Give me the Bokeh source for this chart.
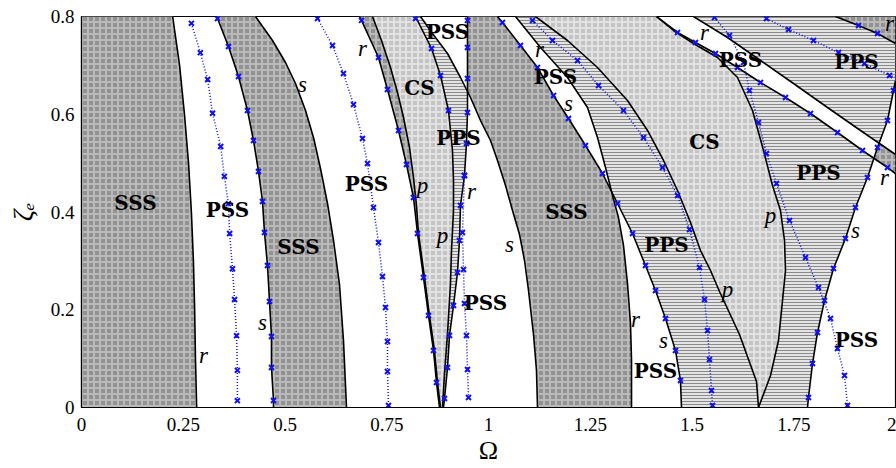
import numpy as np
from bokeh.plotting import figure
from bokeh.models import Range1d, FixedTicker
from bokeh.embed import file_html
from bokeh.resources import INLINE
from bokeh.core.properties import value

# ---------------- data (Omega, zeta_e) ----------------
A_om = [0.224, 0.241, 0.253, 0.263, 0.270, 0.275, 0.278, 0.280, 0.283]
A_ze = [0.8, 0.7, 0.6, 0.5, 0.4, 0.3, 0.2, 0.1, 0.0]

B1_om = [0.270, 0.292, 0.310, 0.322, 0.342, 0.351, 0.361, 0.364, 0.371, 0.376, 0.381, 0.383, 0.383]
B1_ze = [0.786, 0.726, 0.671, 0.602, 0.534, 0.473, 0.417, 0.356, 0.284, 0.221, 0.147, 0.076, 0.014]

C_om = [0.3317, 0.3342, 0.3612, 0.3857, 0.4079, 0.4226, 0.4349, 0.4447, 0.4496, 0.4570, 0.4619, 0.4668, 0.4668, 0.4717, 0.4717]
C_ze = [0.8, 0.7959, 0.7386, 0.6772, 0.6077, 0.5463, 0.4829, 0.4215, 0.3581, 0.2905, 0.2169, 0.1453, 0.0818, 0.0143, 0.0]

D_om = [0.4275, 0.4693, 0.5012, 0.5258, 0.5504, 0.5700, 0.5872, 0.6044, 0.6192, 0.6339, 0.6437, 0.6511]
D_ze = [0.8, 0.7509, 0.7059, 0.6629, 0.6077, 0.5524, 0.4890, 0.4174, 0.3417, 0.2517, 0.1371, 0.0]

B2_om = [0.5799, 0.6167, 0.6437, 0.6683, 0.6904, 0.7027, 0.7174, 0.7297, 0.7396, 0.7469, 0.7518, 0.7518, 0.7543]
B2_ze = [0.7959, 0.7407, 0.6834, 0.6199, 0.5504, 0.4992, 0.4092, 0.3376, 0.2680, 0.2046, 0.1350, 0.0737, 0.0041]

E_om = [0.6830, 0.6880, 0.7297, 0.7518, 0.7789, 0.7985, 0.8157, 0.8256, 0.8403, 0.8526, 0.8649, 0.8722, 0.8796]
E_ze = [0.8, 0.792, 0.7161, 0.6506, 0.5668, 0.4972, 0.4297, 0.3560, 0.2660, 0.1882, 0.1166, 0.0512, 0.0]

F_om = [0.7150, 0.7371, 0.7592, 0.7764, 0.7912, 0.8059, 0.8157, 0.8231, 0.8280, 0.8428, 0.8550, 0.8673, 0.8747, 0.8821]
F_ze = [0.8, 0.7509, 0.6957, 0.6445, 0.5934, 0.5320, 0.4706, 0.4133, 0.3560, 0.2660, 0.1882, 0.1166, 0.0512, 0.0]

G_om = [0.8206, 0.8600, 0.8821, 0.9017, 0.9115, 0.9140, 0.9140, 0.9091, 0.9066, 0.8993, 0.8919, 0.8870]
G_ze = [0.8, 0.7345, 0.6793, 0.6077, 0.5258, 0.4645, 0.4031, 0.3212, 0.2537, 0.1514, 0.0696, 0.0]
Gmk_om = [0.8206, 0.8600, 0.8821, 0.9017]
Gmk_ze = [0.796, 0.7345, 0.6793, 0.6077]

HJ_om = [0.9484, 0.9484, 0.9484, 0.9484, 0.9484, 0.9459, 0.9410, 0.9312, 0.9287, 0.9238, 0.9140, 0.9042, 0.8993, 0.8919, 0.8894]
HJ_ze = [0.8, 0.792, 0.7366, 0.6731, 0.6036, 0.5402, 0.4747, 0.4133, 0.3417, 0.2762, 0.2087, 0.1473, 0.0818, 0.0184, 0.0]

B3_om = [0.9410, 0.9361, 0.9386, 0.9410, 0.9459, 0.9484, 0.9509]
B3_ze = [0.4747, 0.3581, 0.2824, 0.2128, 0.1473, 0.0777, 0.0205]

I_om = [0.8329, 0.8624, 0.8993, 0.9312, 0.9558, 0.9803, 1.0049, 1.0221, 1.0418, 1.0590, 1.0762, 1.0885, 1.0983, 1.1106, 1.1179, 1.1204]
I_ze = [0.8, 0.7652, 0.7243, 0.6752, 0.6343, 0.5872, 0.5463, 0.5054, 0.4542, 0.4031, 0.3540, 0.3008, 0.2394, 0.1494, 0.0757, 0.0]

LS_om = [1.0221, 1.0344, 1.0786, 1.1204, 1.1597, 1.1966, 1.2383, 1.2801, 1.3170, 1.3538, 1.3857, 1.4103, 1.4349, 1.4595, 1.4717, 1.4742]
LS_ze = [0.8, 0.7877, 0.7407, 0.6957, 0.6384, 0.5913, 0.5361, 0.4788, 0.4174, 0.3560, 0.2905, 0.2394, 0.1821, 0.1166, 0.0552, 0.0]

MK_om = [1.0663, 1.1278, 1.1941, 1.2432, 1.2678, 1.2875, 1.3047, 1.3194, 1.3317, 1.3415, 1.3489, 1.3514, 1.3514]
MK_ze = [0.8, 0.7366, 0.6752, 0.6138, 0.5524, 0.4910, 0.4338, 0.3887, 0.3315, 0.2537, 0.1719, 0.0962, 0.0]

N_om = [1.1155, 1.1941, 1.2678, 1.3415, 1.3907, 1.4300, 1.4644, 1.4963, 1.5209, 1.5455, 1.5676, 1.6167, 1.6585, 1.6634]
N_ze = [0.8, 0.7509, 0.6957, 0.6281, 0.5668, 0.5054, 0.4440, 0.3785, 0.3212, 0.2803, 0.2373, 0.1494, 0.0532, 0.0]

P_om = [1.4128, 1.4545, 1.5037, 1.5627, 1.6118, 1.6486, 1.6757, 1.6978, 1.7174, 1.7273, 1.7297, 1.7224, 1.7125, 1.6929, 1.6634]
P_ze = [0.8, 0.7714, 0.7448, 0.7161, 0.6752, 0.6077, 0.5258, 0.4542, 0.4031, 0.3417, 0.2803, 0.2189, 0.1371, 0.0655, 0.0]

T_om = [1.4128, 1.4644, 1.5086, 1.5577, 1.6118, 1.6683, 1.7297, 1.7912, 1.8575, 1.9189, 1.9803, 2.0]
T_ze = [0.8, 0.7673, 0.7468, 0.7243, 0.6957, 0.6650, 0.6343, 0.6015, 0.5627, 0.5258, 0.4910, 0.4788]

U_om = [1.5037, 1.5872, 1.6683, 1.7494, 1.8329, 1.9140, 2.0]
U_ze = [0.8, 0.7570, 0.7100, 0.6629, 0.6138, 0.5668, 0.5176]

Y_om = [1.8526, 1.9091, 1.9558, 2.0]
Y_ze = [0.8, 0.7816, 0.7652, 0.7448]

Z_om = [2.0, 1.9951, 1.9803, 1.9558, 1.9312, 1.9017, 1.8771, 1.8477, 1.8256, 1.8084, 1.7961, 1.7862, 1.7838]
Z_ze = [0.669, 0.6486, 0.5872, 0.5320, 0.4706, 0.4092, 0.3458, 0.2844, 0.2189, 0.1535, 0.0900, 0.0205, 0.0]

Q_om = [1.1081, 1.1572, 1.2187, 1.2703, 1.3317, 1.3808, 1.4275, 1.4644, 1.4939, 1.5184, 1.5307, 1.5381, 1.5430, 1.5479, 1.5504]
Q_ze = [0.7918, 0.7509, 0.7100, 0.6588, 0.6077, 0.5524, 0.4910, 0.4338, 0.3642, 0.2864, 0.2210, 0.1575, 0.0982, 0.0348, 0.0041]

W_om = [1.5553, 1.5921, 1.6265, 1.6413, 1.6634, 1.6830, 1.7076, 1.7396, 1.7789, 1.8108, 1.8403, 1.8575, 1.8747, 1.8821]
W_ze = [0.7980, 0.7611, 0.7059, 0.6486, 0.5831, 0.5197, 0.4583, 0.3826, 0.3069, 0.2455, 0.1821, 0.1207, 0.0655, 0.0041]

X_om = [1.6830, 1.7371, 1.7985, 1.8600, 1.9238, 1.9853, 2.0]
X_ze = [0.7959, 0.7734, 0.7509, 0.7263, 0.7038, 0.6793, 0.676]

reg_text = ["SSS", "PSS", "SSS", "PSS", "CS", "PSS", "PPS", "PSS", "SSS", "PSS", "CS", "PPS", "PSS", "PSS", "PPS", "PPS", "PSS"]
reg_om = [0.1327, 0.3587, 0.5332, 0.7002, 0.8305, 0.8993, 0.9263, 0.9926, 1.1916, 1.1646, 1.5307, 1.4373, 1.4103, 1.6192, 1.9042, 1.8108, 1.9042]
reg_ze = [0.4194, 0.4031, 0.3274, 0.4583, 0.6527, 0.7673, 0.5524, 0.2148, 0.3990, 0.6752, 0.5442, 0.3335, 0.0757, 0.7120, 0.7059, 0.4808, 0.1371]

it_text = ["r", "s", "s", "r", "p", "p", "r", "s", "r", "s", "r", "s", "p", "p", "r", "s", "r", "r"]
it_om = [0.2998, 0.4447, 0.5430, 0.6904, 0.8378, 0.8870, 0.9582, 1.0516, 1.1253, 1.1966, 1.3612, 1.4300, 1.5872, 1.6929, 1.5307, 1.9017, 1.9730, 1.9853]
it_ze = [0.1064, 0.1739, 0.6609, 0.7345, 0.4542, 0.3519, 0.4419, 0.3335, 0.7325, 0.6220, 0.1801, 0.1371, 0.2414, 0.3928, 0.7673, 0.3622, 0.4706, 0.7857]

xtick_vals = [0, 0.25, 0.5, 0.75, 1, 1.25, 1.5, 1.75, 2]
xtick_labels = ["0", "0.25", "0.5", "0.75", "1", "1.25", "1.5", "1.75", "2"]
ytick_vals = [0, 0.2, 0.4, 0.6, 0.8]
ytick_labels = ["0", "0.2", "0.4", "0.6", "0.8"]
x_title = "Ω"
y_title = "ζₑ"

# ---------------- helpers ----------------
zg = np.linspace(0.0, 0.8, 1601)


def fz(om, ze):
    om = np.asarray(om, float)
    ze = np.asarray(ze, float)
    o = np.argsort(ze)
    return np.interp(zg, ze[o], om[o])


cA, cC, cD, cE, cF, cG = fz(A_om, A_ze), fz(C_om, C_ze), fz(D_om, D_ze), fz(E_om, E_ze), fz(F_om, F_ze), fz(G_om, G_ze)
cHJ, cI, cLS, cMK = fz(HJ_om, HJ_ze), fz(I_om, I_ze), fz(LS_om, LS_ze), fz(MK_om, MK_ze)
cN, cP, cT, cU, cY, cZ = fz(N_om, N_ze), fz(P_om, P_ze), fz(T_om, T_ze), fz(U_om, U_ze), fz(Y_om, Y_ze), fz(Z_om, Z_ze)
two = np.full_like(zg, 2.0)
zero = np.zeros_like(zg)

SSS = dict(fill_color="#929292", hatch_pattern="+", hatch_color="#bababa", hatch_scale=6, hatch_weight=2)
CS = dict(fill_color="#c4c4c4", hatch_pattern="+", hatch_color="#e2e2e2", hatch_scale=6, hatch_weight=2)
PPS = dict(fill_color="#e4e4e4", hatch_pattern="-", hatch_color="#8a8a8a", hatch_scale=3, hatch_weight=1)

TICK_FONT = "'Liberation Serif'"
BOLD_FONT = "'DejaVu Serif'"
ITAL_FONT = "'Liberation Serif'"

p = figure(width=896, height=468, x_range=Range1d(0, 2), y_range=Range1d(0, 0.8),
           output_backend="svg", toolbar_location=None,
           min_border_left=81, min_border_right=1, min_border_top=16, min_border_bottom=61)
p.grid.visible = False
p.background_fill_color = "white"
p.outline_line_color = "black"
p.outline_line_width = 1.2


def region(x1, x2, style):
    x2 = np.maximum(x1, x2)
    p.harea(x1=x1, x2=x2, y=zg, **style)


region(zero, cA, SSS)
region(cC, cD, SSS)
region(cE, cF, SSS)
region(cF, cG, CS)
region(cG, np.minimum(cHJ, cI), PPS)
region(np.maximum(cHJ, cI), np.minimum(cLS, cMK), SSS)
region(np.maximum(cMK, cLS), cN, PPS)
region(cN, cP, CS)
region(cP, np.minimum.reduce([cZ, cT, two]), PPS)
region(cU, np.minimum.reduce([cY, cZ, two]), PPS)
region(cY, two, SSS)
region(np.maximum(cZ, cT), np.minimum(cU, two), SSS)

# black boundary curves
for om, ze in [(A_om, A_ze), (C_om, C_ze), (D_om, D_ze), (E_om, E_ze), (F_om, F_ze), (G_om, G_ze),
               (HJ_om, HJ_ze), (I_om, I_ze), (LS_om, LS_ze), (MK_om, MK_ze), (N_om, N_ze), (P_om, P_ze),
               (T_om, T_ze), (U_om, U_ze), (Y_om, Y_ze), (Z_om, Z_ze)]:
    p.line(om, ze, line_color="black", line_width=1.6)

BLUE = "#1010f0"
# blue dotted curves
for om, ze in [(B1_om, B1_ze), (B2_om, B2_ze), (B3_om, B3_ze), (Q_om, Q_ze), (W_om, W_ze), (X_om, X_ze)]:
    p.line(om, ze, line_color=BLUE, line_width=1.5, line_dash="1 2")


def marks(om, ze):
    om = np.asarray(om, float)
    ze = np.asarray(ze, float)
    k = (ze > 0.0) & (ze < 0.8) & (om < 2.0)
    p.scatter(om[k], ze[k], marker="x", size=7, line_color=BLUE, line_width=2)


for om, ze in [(B1_om, B1_ze), (B2_om, B2_ze), (B3_om, B3_ze), (Q_om, Q_ze), (W_om, W_ze), (X_om, X_ze),
               (C_om, C_ze), (E_om, E_ze), (Gmk_om, Gmk_ze), (HJ_om, HJ_ze), (LS_om, LS_ze),
               (T_om, T_ze), (Y_om, Y_ze), (Z_om, Z_ze)]:
    marks(om, ze)

p.text(x=reg_om, y=reg_ze, text=reg_text, text_font=value(BOLD_FONT), text_font_style="bold",
       text_font_size="20px", text_align="center", text_baseline="middle", text_color="black")
p.text(x=it_om, y=it_ze, text=it_text, text_font=value(ITAL_FONT), text_font_style="italic",
       text_font_size="23px", text_align="center", text_baseline="middle", text_color="black")

# axes
p.xaxis.ticker = FixedTicker(ticks=xtick_vals)
p.xaxis.major_label_overrides = dict(zip(xtick_vals, xtick_labels))
p.yaxis.ticker = FixedTicker(ticks=ytick_vals)
p.yaxis.major_label_overrides = dict(zip(ytick_vals, ytick_labels))
for ax in (p.xaxis, p.yaxis):
    ax.major_tick_in = 0
    ax.major_tick_out = 0
    ax.minor_tick_in = 0
    ax.minor_tick_out = 0
    ax.axis_line_color = "black"
    ax.axis_line_width = 1.2
    ax.major_label_text_font = TICK_FONT
    ax.major_label_text_font_size = "19px"
    ax.major_label_text_color = "black"
    ax.axis_label_text_color = "black"
    ax.axis_label_text_font = TICK_FONT
p.xaxis.major_label_standoff = 10
p.yaxis.major_label_standoff = 7
p.xaxis.axis_label = x_title
p.xaxis.axis_label_text_font_size = "26px"
p.xaxis.axis_label_text_font_style = "normal"
p.xaxis.axis_label_standoff = 2
p.yaxis.axis_label = y_title
p.yaxis.axis_label_text_font_size = "28px"
p.yaxis.axis_label_text_font_style = "italic"
p.yaxis.axis_label_standoff = 10

open("out.html", "w").write(file_html(p, INLINE))
